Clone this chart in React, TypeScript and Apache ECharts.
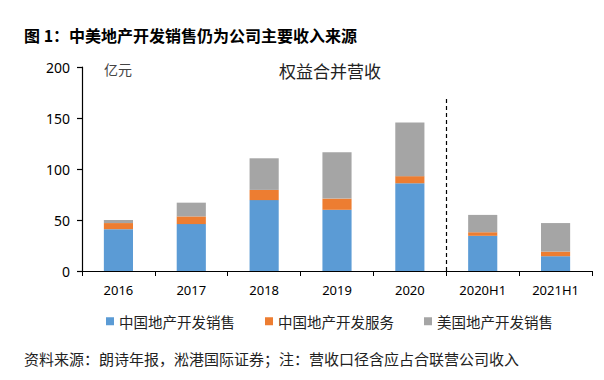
import React, { useEffect, useRef } from "react";
import * as echarts from "echarts";

const categories = ["2016", "2017", "2018", "2019", "2020", "2020H1", "2021H1"];
const chinaSales = [41, 46, 69.5, 60, 86, 34.5, 14.5];
const chinaService = [6, 7.5, 10, 11, 7, 3.5, 4.5];
const usSales = [3, 13.5, 31, 45.5, 52.5, 17, 28];
const seriesNames = ["中国地产开发销售", "中国地产开发服务", "美国地产开发销售"];
// divider between "2020" and "2020H1", reaching up to 170
const divider = [[4, 5, 170]];

export default function App() {
  const ref = useRef<HTMLDivElement>(null);
  useEffect(() => {
    const chart = echarts.init(ref.current!, null, { renderer: "svg" });
    const font = "'Noto Sans', 'Noto Sans CJK SC', sans-serif";
    const cjk = "'Noto Sans CJK SC', sans-serif";
    chart.setOption({
      animation: false,
      backgroundColor: "#fff",
      textStyle: { fontFamily: font },
      grid: { left: 82, right: 12, top: 67, bottom: 109, containLabel: false },
      title: [
        {
          text: "图 1：中美地产开发销售仍为公司主要收入来源",
          left: 19,
          top: 22,
          textStyle: { fontSize: 16, fontWeight: "bold", color: "#000", fontFamily: cjk },
        },
        {
          text: "权益合并营收",
          left: 325,
          top: 57,
          textAlign: "center",
          textStyle: { fontSize: 17, fontWeight: "normal", color: "#222", fontFamily: cjk },
        },
        {
          text: "亿元",
          left: 99,
          top: 57,
          textStyle: { fontSize: 14, fontWeight: "normal", color: "#444", fontFamily: cjk },
        },
        {
          text: "资料来源：朗诗年报，淞港国际证券；注：营收口径含应占合联营公司收入",
          left: 19,
          top: 346,
          textStyle: { fontSize: 15, fontWeight: "normal", color: "#222", fontFamily: cjk },
        },
      ],
      legend: {
        data: seriesNames,
        left: 101,
        top: 309,
        itemWidth: 8,
        itemHeight: 8,
        itemGap: 30,
        icon: "rect",
        textStyle: { fontSize: 14.5, color: "#222", fontFamily: cjk },
      },
      xAxis: {
        type: "category",
        data: categories,
        axisLine: { show: true, lineStyle: { color: "#000", width: 1 } },
        axisTick: { show: true, length: 5, lineStyle: { color: "#000" } },
        axisLabel: { fontSize: 13, color: "#000", margin: 12, fontFamily: font },
      },
      yAxis: {
        type: "value",
        position: "left",
        min: 0,
        max: 200,
        interval: 50,
        splitLine: { show: false },
        axisLine: { show: true, onZero: false, lineStyle: { color: "#000", width: 1.2 } },
        axisTick: { show: true, inside: false, length: 5, lineStyle: { color: "#000", width: 1.2 } },
        axisLabel: { fontSize: 14, color: "#000", margin: 12, fontFamily: font },
      },
      series: [
        {
          name: seriesNames[0],
          type: "bar",
          stack: "total",
          barWidth: "40%",
          data: chinaSales,
          itemStyle: { color: "#5B9BD5" },
        },
        {
          name: seriesNames[1],
          type: "bar",
          stack: "total",
          data: chinaService,
          itemStyle: { color: "#ED7D31" },
        },
        {
          name: seriesNames[2],
          type: "bar",
          stack: "total",
          data: usSales,
          itemStyle: { color: "#A5A5A5" },
        },
        {
          type: "custom",
          silent: true,
          clip: false,
          encode: { x: [0, 1], y: 2 },
          data: divider,
          renderItem: (params: any, api: any) => {
            const a = api.coord([api.value(0), 0]);
            const b = api.coord([api.value(1), api.value(2)]);
            const x = Math.round((a[0] + b[0]) / 2) + 0.5;
            return {
              type: "line",
              shape: { x1: x, y1: a[1], x2: x, y2: b[1] },
              style: { stroke: "#000", lineWidth: 1.2, lineDash: [4, 3] },
            };
          },
        },
      ],
    });
    return () => chart.dispose();
  }, []);
  return <div ref={ref} style={{ position: "fixed", left: 0, top: 0, width: 604, height: 380 }} />;
}
